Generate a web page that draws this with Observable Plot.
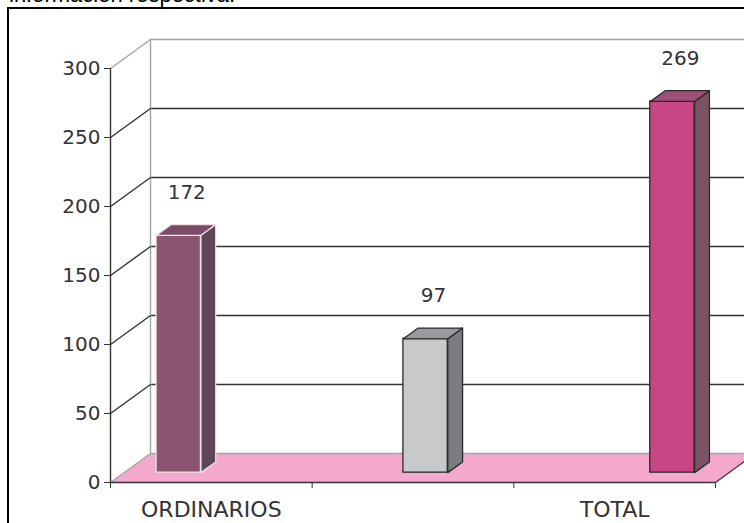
<!DOCTYPE html>
<html><head><meta charset="utf-8">
<script src="https://cdn.jsdelivr.net/npm/d3@7"></script>
<script src="https://cdn.jsdelivr.net/npm/@observablehq/plot@0.6"></script>
<style>
html,body{margin:0;padding:0;background:#fff;overflow:hidden;width:744px;height:523px;position:relative;}
#chart{position:absolute;left:0;top:0;}
#frame{position:absolute;left:7px;top:7px;width:900px;height:700px;border:2px solid #000;box-sizing:border-box;pointer-events:none;}
#title{position:absolute;left:9px;top:-16px;font-family:"Liberation Sans",Arial,sans-serif;font-size:22px;line-height:22px;color:#000;white-space:nowrap;}
</style></head><body>
<div id="chart"></div>
<div id="frame"></div>
<div id="title">información respectiva.</div>
<script>
// ---- data ----
const categories = ["ORDINARIOS", "", "TOTAL"];
const barValues = [172, 97, 269];
const yTicks = [0, 50, 100, 150, 200, 250, 300];

// ---- styles ----
const faceFront = ["#8b5470", "#c8c9cb", "#c74683"];
const faceSide  = ["#5e4656", "#7b7c7f", "#7b5266"];
const faceTop   = ["#7b4c65", "#999a9c", "#9e4e78"];
const faceEdge  = ["#ecdfe6", "#2a2a2a", "#2a2a2a"];
const dark = "#333333", gray = "#a3a3a3", floorPink = "#f4a9cc";

// ---- layout ----
const W = 744, H = 523;
const mL = 110, mR = 29, mT = 68, mB = 41;
const nCat = categories.length;
const pxX = (W - mL - mR) / nCat, pxY = (H - mT - mB) / 300;
const depthX = 40, depthY = 29;                // pixel depth of floor
const DX = depthX / pxX, DY = depthY / pxY;    // same depth in data units
const f0 = 0.34, t = 0.37, halfW = 0.11;       // bar depth start, bar thickness, half width
const center = i => 1.495 + (i - 1) * 1.224;

const bars = barValues.map((v, i) => ({i, v, c: center(i)}));

const marks = [];
// floor
marks.push(Plot.line([{x:0,y:0},{x:nCat,y:0},{x:nCat+DX,y:DY},{x:DX,y:DY}],
  {x:"x", y:"y", fill: floorPink, stroke: "none", curve: "linear-closed"}));
// back wall gridlines
marks.push(Plot.ruleY(yTicks.filter(d => d > 0 && d < 300), {x1: 0, x2: nCat + 0.5, dx: depthX, dy: -depthY, stroke: dark, strokeWidth: 1.4}));
marks.push(Plot.ruleY([0, 300], {x1: 0, x2: nCat + 0.5, dx: depthX, dy: -depthY, stroke: gray, strokeWidth: 1.4}));
marks.push(Plot.ruleX([0], {y1: 0, y2: 300, dx: depthX, dy: -depthY, stroke: gray, strokeWidth: 1.4}));
// connectors from front axis to back wall
marks.push(Plot.link(yTicks.filter(d => d > 0 && d < 300), {x1: 0, y1: d => d, x2: DX, y2: d => d + DY, stroke: dark, strokeWidth: 1.4}));
marks.push(Plot.link([0, 300], {x1: 0, y1: d => d, x2: DX, y2: d => d + DY, stroke: gray, strokeWidth: 1.4}));
// front axis lines
marks.push(Plot.ruleX([0], {y1: 0, y2: 300, stroke: dark, strokeWidth: 1.4}));
marks.push(Plot.ruleY([0], {x1: 0, x2: nCat, stroke: dark, strokeWidth: 1.4}));
marks.push(Plot.link([0], {x1: nCat, y1: 0, x2: nCat + DX, y2: DY, stroke: dark, strokeWidth: 1.2}));
// bars
for (const b of bars) {
  const {i, v, c} = b;
  const off = {dx: f0 * depthX, dy: -f0 * depthY};
  marks.push(Plot.rect([b], {x1: d => d.c - halfW, x2: d => d.c + halfW, y1: 0, y2: d => d.v,
    fill: faceFront[i], stroke: faceEdge[i], strokeWidth: 1.3, ...off}));
  marks.push(Plot.line([{x:c+halfW,y:0},{x:c+halfW,y:v},{x:c+halfW+t*DX,y:v+t*DY},{x:c+halfW+t*DX,y:t*DY}],
    {x:"x", y:"y", fill: faceSide[i], stroke: faceEdge[i], strokeWidth: 1.3, curve: "linear-closed", ...off}));
  marks.push(Plot.line([{x:c-halfW,y:v},{x:c+halfW,y:v},{x:c+halfW+t*DX,y:v+t*DY},{x:c-halfW+t*DX,y:v+t*DY}],
    {x:"x", y:"y", fill: faceTop[i], stroke: faceEdge[i], strokeWidth: 1.3, curve: "linear-closed", ...off}));
}
// value labels
marks.push(Plot.text(bars, {x: "c", y: "v", text: d => String(d.v), dx: f0 * depthX + 8, dy: -53,
  fill: dark, fontSize: 20}));
// category labels
marks.push(Plot.text(categories.map((name, i) => ({name, i})), {x: d => d.i + 0.5, y: 0, text: "name", dy: 27,
  fill: dark, fontSize: 22}));

const chart = Plot.plot({
  width: W, height: H,
  marginLeft: mL, marginRight: mR, marginTop: mT, marginBottom: mB,
  style: {background: "transparent", fontFamily: "DejaVu Sans", fontSize: "20px", color: dark, overflow: "visible"},
  x: {domain: [0, nCat], ticks: nCat, tickSize: 6, tickFormat: () => "", label: null},
  y: {domain: [0, 300], ticks: 6, tickSize: 6, tickPadding: 4, label: null},
  marks
});
document.getElementById("chart").appendChild(chart);
</script>
</body></html>
